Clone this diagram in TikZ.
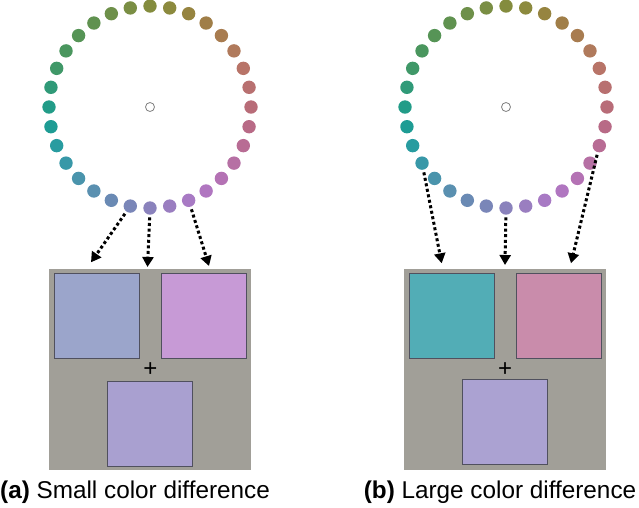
\documentclass[tikz,border=0pt]{standalone}
\usepackage{fontspec}
\setmainfont{Liberation Sans}
\usetikzlibrary{arrows.meta}

\definecolor{panelgray}{HTML}{A19F98}
\definecolor{edgegray}{HTML}{50505E}
\definecolor{sqAleft}{HTML}{9BA5CB}
\definecolor{sqAright}{HTML}{C79AD6}
\definecolor{sqAbottom}{HTML}{A9A0D0}
\definecolor{sqBleft}{HTML}{52ADB6}
\definecolor{sqBright}{HTML}{C98CAB}
\definecolor{sqBbottom}{HTML}{ABA2D2}

\tikzset{
	dot/.style={circle, inner sep=0pt, minimum size=13.4pt},
	panel/.style={fill=panelgray, inner sep=0pt, minimum width=202pt, minimum height=201pt},
	patch/.style={draw=edgegray, line width=0.8pt, inner sep=0pt, minimum size=85pt},
	pick/.style={line width=3pt, dash pattern=on 3pt off 2.6pt, shorten <=2.5pt, -{Triangle[width=11pt,length=10pt]}},
	caption/.style={anchor=base, font=\fontsize{24.3}{28}\selectfont}
}

\begin{document}
\begin{tikzpicture}[x=1pt, y=-1pt]
	\useasboundingbox (0,0) rectangle (639,507);

	\foreach \w/\cx in {A/150, B/506} {
		\foreach \c [count=\i from 0] in {B86C78, B87070, B87468, B07A5C, A87C50, A07E48, 968440, 8C8A3E,
			848C3E, 7A8E44, 6E904A, 609250, 569456, 4A965E, 409868, 309A78,
			229C88, 1E9C94, 289CA0, 3898A8, 4A94AC, 5A90B0, 6A8AB4, 7A86B8,
			8A82BC, 9A7EC0, A87AC4, B076C0, B472B4, B670A4, B86C94, B86A86} {
			\definecolor{dotc}{HTML}{\c}
			\node[dot, fill=dotc] (d\w\i) at ({\cx+101*cos(\i*11.25)},{107-101*sin(\i*11.25)}) {};
		}
		\node[draw=gray, fill=white, circle, line width=0.8pt, inner sep=0pt, minimum size=9pt] (c\w) at (\cx,107) {};
	}

	\node[panel] (pA) at (150,369.7) {};
	\node[patch, fill=sqAleft] (lA) at (96.5,316.3) {};
	\node[patch, fill=sqAright] (rA) at (203.5,316.3) {};
	\node[patch, fill=sqAbottom] (bA) at (150.2,423.5) {};
	\node[font=\fontsize{24}{26}\selectfont, inner sep=0pt] (xA) at (150.3,370) {+};

	\node[panel] (pB) at (505.3,369.7) {};
	\node[patch, fill=sqBleft] (lB) at (452.2,316) {};
	\node[patch, fill=sqBright] (rB) at (558.5,316) {};
	\node[patch, fill=sqBbottom] (bB) at (505.3,422.3) {};
	\node[font=\fontsize{24}{26}\selectfont, inner sep=0pt] (xB) at (505,369.3) {+};

	\coordinate (tA1) at (91,262.3);
	\coordinate (tA2) at (147.5,267);
	\coordinate (tA3) at (209,266);
	\coordinate (tB1) at (441.7,263.3);
	\coordinate (tB2) at (505,265);
	\coordinate (tB3) at (571,263.3);

	\draw [pick] (dA23) -- (tA1);
	\draw [pick] (dA24) -- (tA2);
	\draw [pick] (dA26) -- (tA3);
	\draw [pick] (dB19) -- (tB1);
	\draw [pick] (dB24) -- (tB2);
	\draw [pick] (dB30) -- (tB3);

	\node[caption] (capA) at (135,498.3) {\textbf{(a)} Small color difference};
	\node[caption] (capB) at (500,498.3) {\textbf{(b)} Large color difference};
\end{tikzpicture}
\end{document}
